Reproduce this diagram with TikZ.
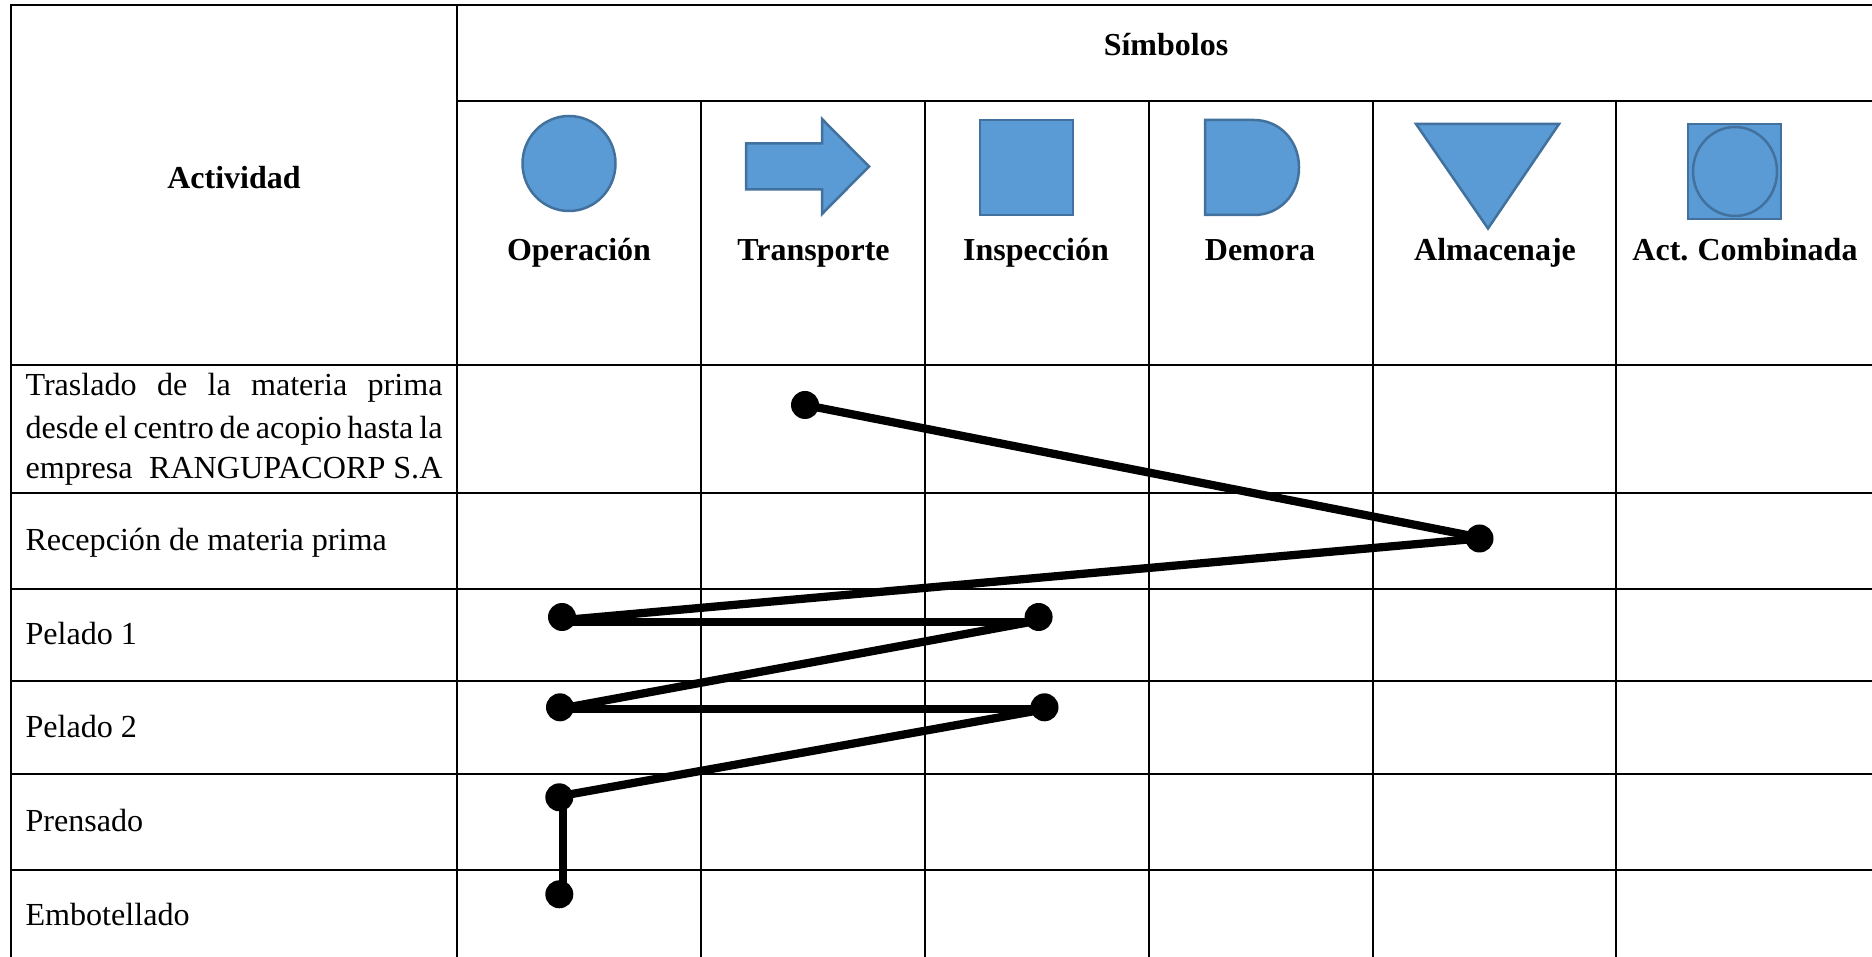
\documentclass[tikz,border=0pt]{standalone}
\usepackage{fontspec}
\setmainfont{Liberation Serif}
\usetikzlibrary{shapes.geometric}
\definecolor{symfill}{HTML}{5B9BD5}
\definecolor{symline}{HTML}{41719C}
\tikzset{
  x=0.4pt,y=-0.4pt,
  grid/.style={black,line width=0.75pt},
  sym/.style={fill=symfill,draw=symline,line width=1pt,line join=miter},
  dot/.style={circle,fill=black,draw=none,inner sep=0pt,minimum size=11.2pt},
  link/.style={black,line width=3.3pt},
  head/.style={anchor=base,inner sep=0pt,font=\fontsize{12.8}{15}\selectfont\bfseries},
  row/.style={anchor=base west,inner sep=0pt,font=\fontsize{12.85}{15}\selectfont},
}
\begin{document}
\begin{tikzpicture}
\useasboundingbox (0,0) rectangle (1872,957);
\fill[white] (0,0) rectangle (1872,957);
% grid
\draw[grid] (10.8,957) -- (10.8,5) -- (1872,5);
\draw[grid] (457,5) -- (457,957);
\draw[grid] (457,100.7) -- (1872,100.7);
\foreach \gx in {701,925,1149,1373,1616} \draw[grid] (\gx,100.7) -- (\gx,957);
\foreach \gy in {365,492.7,588.7,680.7,774,869.8} \draw[grid] (10.8,\gy) -- (1872,\gy);
% headings
\node[head] (actividad) at (234,189) {Actividad};
\node[head] (simbolos) at (1166,56) {Símbolos};
\node[head] (operacion) at (579,261) {Operación};
\node[head] (transporte) at (813.5,261) {Transporte};
\node[head] (inspeccion) at (1036,261) {Inspección};
\node[head] (demoraT) at (1260,261) {Demora};
\node[head] (almacenaje) at (1495,261) {Almacenaje};
\node[head] (combinada) at (1745,261) {Act.\hspace{-0.05em} Combinada};
% symbols
\draw[sym] (569,163.5) ellipse [x radius=46.5,y radius=47.5];
\draw[sym] (746,143.5) -- (822,143.5) -- (822,119) -- (869,166.5) -- (822,214) -- (822,189.5) -- (746,189.5) -- cycle;
\draw[sym] (980,120) rectangle (1073,215);
\draw[sym] (1205,120) -- (1254,120) .. controls (1279,120) and (1299,140) .. (1299,167.5) .. controls (1299,195) and (1279,215) .. (1254,215) -- (1205,215) -- cycle;
\draw[sym] (1416,124) -- (1559,124) -- (1488,228.5) -- cycle;
\draw[sym] (1688,124) rectangle (1781,219);
\draw[sym] (1735,171.5) ellipse [x radius=42,y radius=44.5];
% activities
\node[row] (t1) at (25,396) {\makebox[166.8pt][s]{Traslado de la materia prima}};
\node[row] (t2) at (25,439) {\makebox[166.8pt][s]{desde el centro de acopio hasta la}};
\node[row] (t3) at (25,479) {\makebox[166.8pt][s]{empresa\hspace{0.5em plus 1fil}RANGUPACORP S.A}};
\node[row] (r2) at (25,550.5) {Recepción de materia prima};
\node[row] (r3) at (25,644.5) {Pelado 1};
\node[row] (r4) at (25,738) {Pelado 2};
\node[row] (r5) at (25,831.5) {Prensado};
\node[row] (r6) at (25,925) {Embotellado};
% dots
\node[dot] (a) at (805,405) {};
\node[dot] (b) at (1479.5,538.5) {};
\node[dot] (c) at (562,617) {};
\node[dot] (d) at (1038.6,617) {};
\node[dot] (e) at (560,707.3) {};
\node[dot] (f) at (1044.5,707.3) {};
\node[dot] (g) at (559.3,797.3) {};
\node[dot] (h) at (559.3,894.3) {};
% connectors
\draw[link] (a.center) -- ([xshift=-2pt,yshift=0.8pt]b.center);
\draw[link] (b.center) -- ([xshift=1pt,yshift=-1.2pt]c.center) ;
\draw[link] ([xshift=1pt,yshift=-2pt]c.center) -- ([yshift=-2pt]d.center);
\draw[link] ([yshift=-1.4pt]d.center) -- ([xshift=1pt,yshift=-0.4pt]e.center);
\draw[link] ([yshift=-0.7pt]e.center) -- ([yshift=-0.7pt]f.center);
\draw[link] ([yshift=-0.8pt]f.center) -- ([xshift=1pt,yshift=0.6pt]g.center);
\draw[link,line width=3.2pt] ([xshift=1.6pt]g.center) -- ([xshift=1.6pt]h.center);
\end{tikzpicture}
\end{document}
